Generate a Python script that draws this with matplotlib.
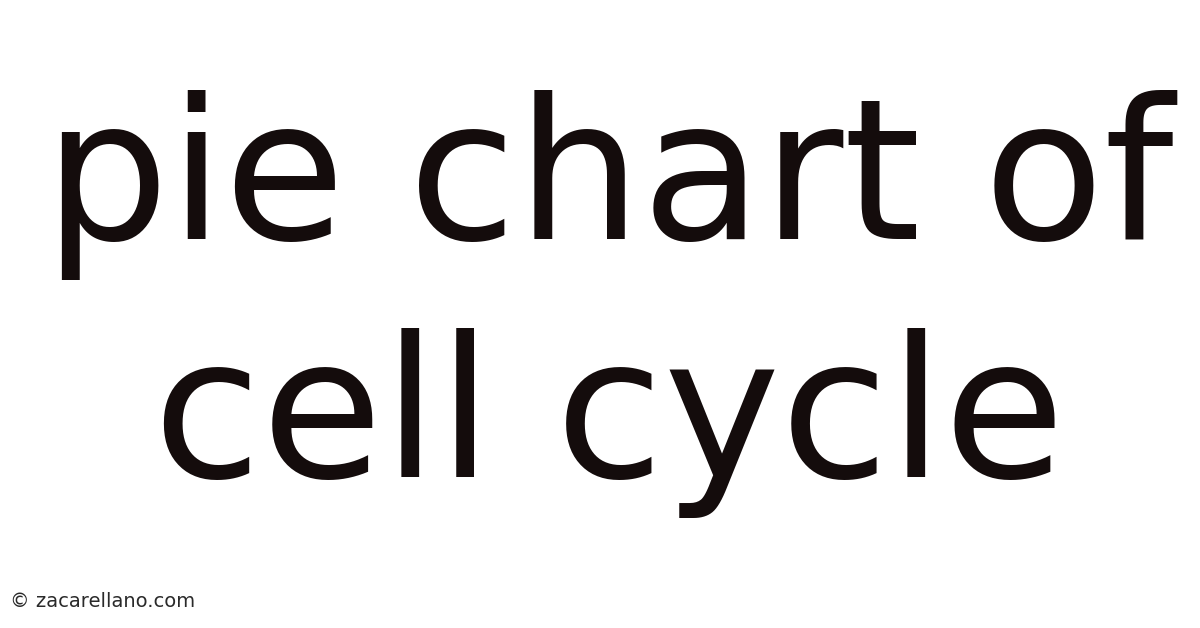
import matplotlib
matplotlib.use("Agg")
import matplotlib.pyplot as plt

title_lines = ["pie chart of", "cell cycle"]
watermark = "© zacarellano.com"
text_color = "#140c0c"

fig = plt.figure(figsize=(12, 6.28), dpi=100)
fig.patch.set_facecolor("white")

# baselines in pixels from top, converted to figure fraction
baselines_px = [239, 477]
x_center = 0.5 + 9 / 1200
for line, y_px in zip(title_lines, baselines_px):
    fig.text(x_center, 1 - y_px / 628, line, ha="center", va="baseline",
             fontsize=142, color=text_color, family="DejaVu Sans")

fig.text(10 / 1200, 1 - 607 / 628, watermark, ha="left", va="baseline",
         fontsize=14, color="#2a2a2a", family="DejaVu Sans")

fig.savefig("out.png", dpi=100, facecolor="white")
